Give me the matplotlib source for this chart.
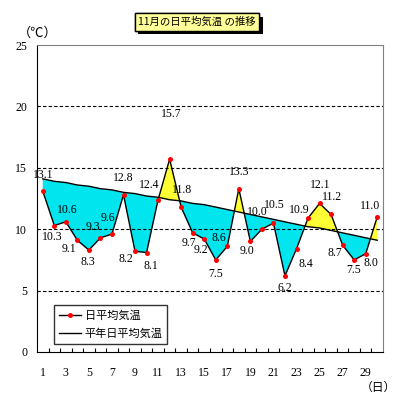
import numpy as np
import matplotlib
matplotlib.use("Agg")
import matplotlib.pyplot as plt
import matplotlib.patheffects as pe
from matplotlib.lines import Line2D

# ==========================================================
# DATA
# ==========================================================

days = list(range(1, 31))

daily_mean = [
    13.1, 10.3, 10.6, 9.1, 8.3, 9.3, 9.6, 12.8, 8.2, 8.1,
    12.4, 15.7, 11.8, 9.7, 9.2, 7.5, 8.6, 13.3, 9.0, 10.0,
    10.5, 6.2, 8.4, 10.9, 12.1, 11.2, 8.7, 7.5, 8.0, 11.0,
]

normal_mean = [
    14.1, 13.9, 13.8, 13.6, 13.5, 13.3, 13.2, 13.0, 12.9, 12.7,
    12.6, 12.4, 12.3, 12.1, 12.0, 11.8, 11.6, 11.4, 11.2, 11.0,
    10.8, 10.6, 10.4, 10.2, 10.1, 9.9, 9.7, 9.5, 9.3, 9.1,
]

xtick_days = list(range(1, 30, 2))

# label offsets in pixels (dx, dy) from each point
label_offsets = [
    (0, 16), (-2, -11), (1, 12), (-8, -9), (-1, -12), (-7, 11), (-4, 16),
    (0, 17), (-9, -8), (4, -13), (-9, 15), (2, 45), (1, 17), (-4, -10),
    (-3, -11), (0, -14), (-8, 8), (0, 17), (-3, -10), (-5, 17), (1, 18),
    (0, -12), (9, -15), (-9, 8), (1, 18), (1, 17), (-8, -8), (-1, -10),
    (5, -9), (-7, 11),
]

# ==========================================================
# FIGURE
# ==========================================================

jp_font = ["Noto Sans CJK JP", "DejaVu Sans"]
num_font = "Liberation Serif"

fig = plt.figure(figsize=(3.99, 4.0), dpi=100)
ax = fig.add_axes([37 / 399, 48 / 400, 346 / 399, 307 / 400])

x = np.array(days, dtype=float)
y = np.array(daily_mean)
n = np.array(normal_mean)

ax.fill_between(x, y, n, where=y <= n, interpolate=True,
                color="#00E5EE", linewidth=0, zorder=1)
ax.fill_between(x, y, n, where=y >= n, interpolate=True,
                color="#FFFF33", linewidth=0, zorder=1)

ax.plot(x, n, color="black", linewidth=1.0, zorder=3)
ax.plot(x, y, color="black", linewidth=1.0, zorder=4)
ax.plot(x, y, linestyle="none", marker="o", markersize=3.6,
        color="red", markeredgewidth=0, zorder=5)

for xi, yi, (dx, dy) in zip(x, y, label_offsets):
    ax.annotate(f"{yi:.1f}", (xi, yi), xytext=(dx, dy),
                textcoords="offset pixels", ha="center", va="center",
                fontsize=8.5, family=num_font, zorder=6)

ax.set_xlim(0.5, 30.5)
ax.set_ylim(0, 25)

for gy in [5, 10, 15, 20]:
    ax.axhline(gy, color="black", linewidth=0.8,
               linestyle=(0, (3, 2)), zorder=2)

ax.set_yticks([0, 5, 10, 15, 20, 25])
ax.set_yticklabels(["0", "5", "10", "15", "20", "25"],
                   family=num_font, fontsize=8.5)
ax.tick_params(axis="y", length=0, pad=7)

ax.set_xticks(xtick_days)
ax.set_xticklabels([str(d) for d in xtick_days],
                   family=num_font, fontsize=8.5)
ax.set_xticks(np.arange(1.5, 30.5, 1.0), minor=True)
ax.tick_params(axis="x", which="major", length=0, pad=11)
ax.tick_params(axis="x", which="minor", direction="in",
               length=3, width=0.8, color="black")

for side in ["top", "right"]:
    ax.spines[side].set_color("#808080")
for side in ["left", "bottom"]:
    ax.spines[side].set_color("black")

# ==========================================================
# TEXTS
# ==========================================================

fig.text(38 / 399, 1 - 33 / 400, "（℃）", family=jp_font,
         fontsize=9.5, ha="center", va="center")
fig.text(378 / 399, 1 - 387 / 400, "（日）", family=jp_font,
         fontsize=8.5, ha="center", va="center")

title = fig.text(197 / 399, 1 - 22 / 400, "11月の日平均気温 の推移",
                 family=jp_font, fontsize=7.5, ha="center", va="center",
                 bbox=dict(boxstyle="square,pad=0.35", facecolor="#FFFF99",
                           edgecolor="black", linewidth=1.0))
title.get_bbox_patch().set_path_effects([
    pe.withSimplePatchShadow(offset=(2.5, -2.5), shadow_rgbFace="black",
                             alpha=1.0),
    pe.Normal(),
])

handles = [
    Line2D([0], [0], color="black", linewidth=1.0, marker="o",
           markersize=3.6, markerfacecolor="red", markeredgewidth=0),
    Line2D([0], [0], color="black", linewidth=1.0),
]
leg = fig.legend(handles, ["日平均気温", "平年日平均気温"],
                 loc="upper left", bbox_to_anchor=(54 / 399, 1 - 305 / 400),
                 prop={"family": jp_font, "size": 8},
                 frameon=True, fancybox=False, handlelength=2.0,
                 handletextpad=0.3, borderpad=0.45, labelspacing=0.7,
                 borderaxespad=0)
leg.get_frame().set_edgecolor("black")
leg.get_frame().set_linewidth(1.0)

plt.savefig("out.png", dpi=100)
